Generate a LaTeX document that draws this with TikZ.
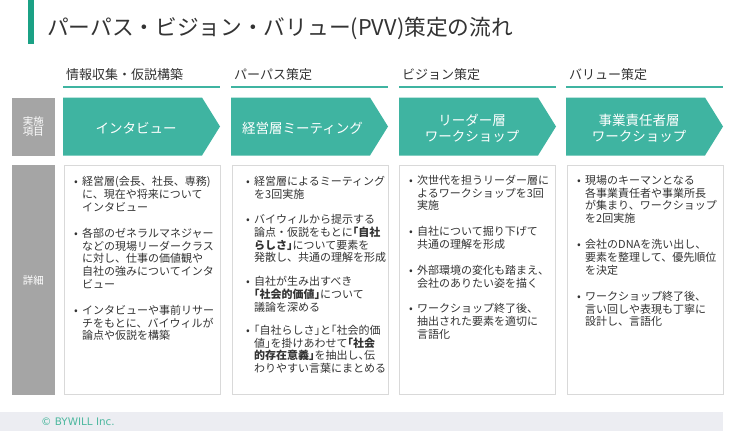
\documentclass[tikz,border=0pt]{standalone}
\usepackage{fontspec}
\setmainfont{Noto Sans CJK JP}
\newfontfamily\jpH{Noto Sans CJK JP}[RawFeature=+halt]
\newfontfamily\footfont{DejaVu Sans}
\definecolor{teal}{HTML}{3FB4A1}
\definecolor{barc}{HTML}{1BA185}
\definecolor{graycell}{HTML}{A5A5A5}
\definecolor{bord}{HTML}{D9D9D9}
\definecolor{footbg}{HTML}{ECEDF2}
\definecolor{foottxt}{HTML}{4DB89F}
\definecolor{txt}{HTML}{333333}
\newcommand\bodyfont{\fontsize{11}{12}\selectfont}
\newcommand\bodyline[4]{\node[lin] (#1) at (#2,#3+4.2) {#4};}
\newcommand\bodybullet[4]{\node[lin] (#1b) at (#2-8,#3+4.2) {•};\node[lin] (#1) at (#2,#3+4.2) {#4};}
\tikzset{
  lin/.style={anchor=base west, inner sep=0pt, font=\bodyfont, text=txt},
  hdr/.style={anchor=base west, inner sep=0pt, font=\fontsize{13}{14}\selectfont, text=txt},
  chevtxt/.style={anchor=base, inner sep=0pt, font=\fontsize{13.5}{15}\selectfont, text=white},
  cell/.style={fill=graycell, draw=none},
  celltxt/.style={anchor=base, inner sep=0pt, font=\fontsize{10.5}{11}\selectfont, text=white},
  detailbox/.style={draw=bord, line width=1pt, fill=white},
  hline/.style={draw=teal, line width=2pt},
}
\begin{document}
\begin{tikzpicture}[x=1pt,y=-1pt]
\useasboundingbox (0,0) rectangle (750,431);
\fill[white] (0,0) rectangle (750,431);
% title
\fill[barc] (27.5,0) rectangle (33.5,44);
\node[anchor=base west, inner sep=0pt, font=\fontsize{21.7}{24}\selectfont, text=txt] (title) at (47,35.4) {パーパス・ビジョン・バリュー(PVV)策定の流れ};
% headers
\foreach \xx/\nm/\lab in {63/h1/情報収集・仮説構築, 231/h2/パーパス策定, 399/h3/ビジョン策定, 566/h4/バリュー策定}{
  \node[hdr] (\nm) at (\xx+3,79.9) {\lab};
  \draw[hline] (\xx,87) -- (\xx+157,87);
}
% gray cells
\fill[cell] (12,98) rectangle (55,155.5);
\node[celltxt] (c1) at (33.5,125.3) {実施};
\node[celltxt] (c2) at (33.5,135.9) {項目};
\fill[cell] (12,165) rectangle (55,394.5);
\node[celltxt] (c3) at (33.5,284.8) {詳細};
% chevrons
\foreach \xx in {63,231,399,566}{
  \fill[teal] (\xx,97.5) -- (\xx+139,97.5) -- (\xx+157,126.5) -- (\xx+139,155.5) -- (\xx,155.5) -- cycle;
}
\node[chevtxt] (k1) at (136,133.4) {インタビュー};
\node[chevtxt] (k2) at (302.5,133.4) {経営層ミーティング};
\node[chevtxt] (k3a) at (472,125.1) {リーダー層};
\node[chevtxt] (k3b) at (472,141.8) {ワークショップ};
\node[chevtxt] (k4a) at (639,125.1) {事業責任者層};
\node[chevtxt] (k4b) at (639,141.8) {ワークショップ};
% detail boxes
\foreach \xx in {64,232,399,567}{
  \draw[detailbox] (\xx,165.5) rectangle (\xx+156,394);
}
% column 1
\bodybullet{a1}{82}{181.7}{経営層(会長、社長、専務)}
\bodyline{a2}{82}{194.5}{に、現在や将来について}
\bodyline{a3}{82}{207.3}{インタビュー}
\bodybullet{a4}{82}{233}{各部のゼネラルマネジャー}
\bodyline{a5}{82}{245.8}{などの現場リーダークラス}
\bodyline{a6}{82}{258.6}{に対し、仕事の価値観や}
\bodyline{a7}{82}{271.4}{自社の強みについてインタ}
\bodyline{a8}{82}{284.2}{ビュー}
\bodybullet{a9}{82}{310}{インタビューや事前リサー}
\bodyline{a10}{82}{322.8}{チをもとに、バイウィルが}
\bodyline{a11}{82}{335.6}{論点や仮説を構築}
% column 2
\bodybullet{b1}{254}{181.7}{経営層によるミーティング}
\bodyline{b2}{254}{194.5}{を3回実施}
\bodybullet{b3}{254}{219.3}{バイウィルから提示する}
\bodyline{b4}{254}{232.1}{論点・仮説をもとに{\jpH\textbf{「自社}}}
\bodyline{b5}{254}{244.9}{{\jpH\textbf{らしさ」}}について要素を}
\bodyline{b6}{254}{257.7}{発散し、共通の理解を形成}
\bodybullet{b7}{254}{281.7}{自社が生み出すべき}
\bodyline{b8}{254}{294.5}{{\jpH\textbf{「社会的価値」}}について}
\bodyline{b9}{254}{307.3}{議論を深める}
\bodybullet{b10}{254}{330}{{\jpH 「自社らしさ」と「社会的価}}
\bodyline{b11}{254}{342.8}{{\jpH 値」を掛けあわせて\textbf{「社会}}}
\bodyline{b12}{254}{355.6}{{\jpH\textbf{的存在意義」}を抽出し、伝}}
\bodyline{b13}{254}{368.4}{わりやすい言葉にまとめる}
% column 3
\bodybullet{d1}{417}{180}{次世代を担うリーダー層に}
\bodyline{d2}{417}{192.8}{よるワークショップを3回}
\bodyline{d3}{417}{205.6}{実施}
\bodybullet{d4}{417}{231.7}{自社について掘り下げて}
\bodyline{d5}{417}{244.5}{共通の理解を形成}
\bodybullet{d6}{417}{270}{外部環境の変化も踏まえ、}
\bodyline{d7}{417}{282.8}{会社のありたい姿を描く}
\bodybullet{d8}{417}{308.3}{ワークショップ終了後、}
\bodyline{d9}{417}{321.1}{抽出された要素を適切に}
\bodyline{d10}{417}{333.9}{言語化}
% column 4
\bodybullet{e1}{585}{180}{現場のキーマンとなる}
\bodyline{e2}{585}{192.8}{各事業責任者や事業所長}
\bodyline{e3}{585}{205.6}{が集まり、ワークショップ}
\bodyline{e4}{585}{218.4}{を2回実施}
\bodybullet{e5}{585}{244.3}{会社のDNAを洗い出し、}
\bodyline{e6}{585}{257.1}{要素を整理して、優先順位}
\bodyline{e7}{585}{269.9}{を決定}
\bodybullet{e8}{585}{296}{ワークショップ終了後、}
\bodyline{e9}{585}{308.8}{言い回しや表現も丁寧に}
\bodyline{e10}{585}{321.6}{設計し、言語化}
% footer
\fill[footbg] (0,412) rectangle (723,431);
\node[anchor=base west, inner sep=0pt, font=\footfont\fontsize{10.4}{12}\selectfont, text=foottxt] (foot) at (41,425.7) {© BYWILL Inc.};
\end{tikzpicture}
\end{document}
